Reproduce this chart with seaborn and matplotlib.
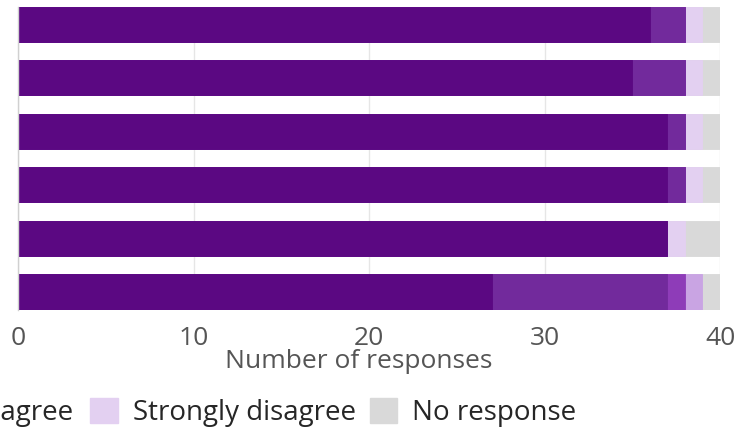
import numpy as np
import pandas as pd
import matplotlib
matplotlib.use("Agg")
import matplotlib.pyplot as plt
import seaborn as sns
from matplotlib.patches import Patch

# Survey statements (their labels fall outside the visible area)
statements = ["Statement 1", "Statement 2", "Statement 3",
              "Statement 4", "Statement 5", "Statement 6"]

# Response counts per category
strongly_agree = [36, 35, 37, 37, 37, 27]
agree = [2, 3, 1, 1, 0, 10]
neutral = [0, 0, 0, 0, 0, 1]
disagree = [0, 0, 0, 0, 0, 1]
strongly_disagree = [1, 1, 1, 1, 1, 0]
no_response = [1, 1, 1, 1, 2, 1]

categories = ["Strongly agree", "Agree", "Neutral", "Disagree",
              "Strongly disagree", "No response"]
colors = ["#5b0882", "#722a9c", "#8e3cb8", "#c9a4e3", "#e3d0f1", "#d9d9d9"]

counts = pd.DataFrame({
    "Strongly agree": strongly_agree,
    "Agree": agree,
    "Neutral": neutral,
    "Disagree": disagree,
    "Strongly disagree": strongly_disagree,
    "No response": no_response,
}, index=statements)
cum = counts.cumsum(axis=1)

sns.set_style("white")
plt.rcParams["font.family"] = ["Open Sans", "DejaVu Sans"]

fig = plt.figure(figsize=(7.44, 4.30), dpi=100)
W, H = 744, 430
ax = fig.add_axes([18 / W, (430 - 309.5) / H, 702 / W, 303 / H])

bar_h = 0.655
# draw cumulative totals from the last category back so earlier ones overlay
for cat, col in reversed(list(zip(categories, colors))):
    df = pd.DataFrame({"statement": statements, "value": cum[cat].values})
    sns.barplot(data=df, x="value", y="statement", color=col, orient="h",
                width=bar_h, ax=ax, edgecolor=col, linewidth=0.6,
                saturation=1)

ax.set_xlim(0, 40)
ax.set_ylim(5 + bar_h / 2, -bar_h / 2)
ax.set_xticks([0, 10, 20, 30, 40])
ax.grid(axis="x", color="#e6e6e6", linewidth=1)
ax.set_axisbelow(True)
for s in ["top", "right", "bottom"]:
    ax.spines[s].set_visible(False)
ax.spines["left"].set_color("#d0d0d0")
ax.spines["left"].set_linewidth(1)
ax.tick_params(axis="x", length=0, pad=12, labelsize=19, labelcolor="#555555")
ax.tick_params(axis="y", length=0, labelleft=False)
ax.set_ylabel("")
ax.set_xlabel("Number of responses", fontsize=19, color="#555555")
ax.xaxis.set_label_coords(0.485, -0.13)

# legend split in two parts so the spacing matches the original layout
handles = [Patch(facecolor=c, edgecolor=c) for c in colors]
leg_kw = dict(loc="lower left", bbox_to_anchor=(0, 0.0), frameon=False,
              fontsize=20, handlelength=1.0, handleheight=1.0,
              handletextpad=0.54, columnspacing=0.5, borderaxespad=0.2)
leg1 = fig.legend(handles[:4], categories[:4], ncol=4, **leg_kw)
leg2 = fig.legend(handles[4:], categories[4:], ncol=2, **leg_kw)
fig.canvas.draw()

ext2 = leg2.get_patches()[0].get_window_extent()
leg2.set_bbox_to_anchor(((90 - ext2.x0) / W, (7 - ext2.y0) / H))

ext1_txt = leg1.get_texts()[3].get_window_extent()
ext1_box = leg1.get_patches()[3].get_window_extent()
leg1.set_bbox_to_anchor(((73 - ext1_txt.x1) / W, (7 - ext1_box.y0) / H))

fig.savefig("out.png", dpi=100)
